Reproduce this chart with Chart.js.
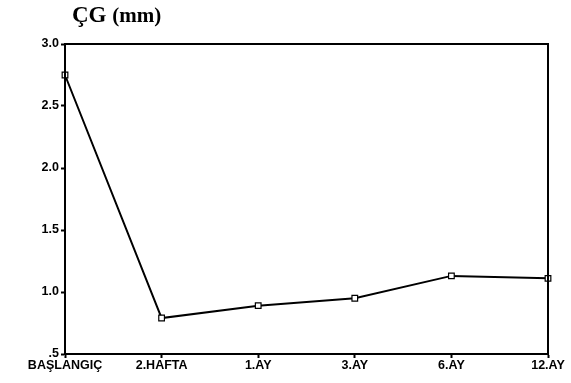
<!DOCTYPE html>
<html>
<head>
<meta charset="utf-8">
<script src="https://cdn.jsdelivr.net/npm/chart.js@4"></script>
<style>
  html, body { margin: 0; padding: 0; background: #ffffff; }
  #wrap { width: 571px; height: 383px; position: relative; }
</style>
</head>
<body>
<div id="wrap"><canvas id="chart" width="571" height="383"></canvas></div>
<script>
const periods = [`BAŞLANGIÇ`, `2.HAFTA`, `1.AY`, `3.AY`, `6.AY`, `12.AY`];
const cgValues = [2.75, 0.79, 0.89, 0.95, 1.13, 1.11];
const yTicks = [0.5, 1.0, 1.5, 2.0, 2.5, 3.0];

const AXIS_FONT = {family: `"Liberation Sans", Arial, sans-serif`, size: 12.5, weight: `bold`};

// frame around the plot + the title in the top left
const framePlugin = {
  id: `frame`,
  afterDraw(chart) {
    const {ctx, chartArea: a} = chart;
    ctx.save();
    ctx.strokeStyle = `#000000`;
    ctx.lineWidth = 2;
    ctx.strokeRect(a.left, a.top, a.right - a.left, a.bottom - a.top);

    ctx.fillStyle = `#000000`;
    ctx.textBaseline = `alphabetic`;
    ctx.font = `bold 23px "Liberation Serif", "Times New Roman", serif`;
    ctx.fillText(`ÇG`, 72, 22);
    const w = ctx.measureText(`ÇG `).width;
    ctx.font = `bold 21px "Liberation Serif", "Times New Roman", serif`;
    ctx.fillText(`(mm)`, 72 + w, 22);
    ctx.restore();
  }
};

new Chart(document.getElementById(`chart`), {
  type: `line`,
  plugins: [framePlugin],
  data: {
    labels: periods,
    datasets: [{
      data: cgValues,
      borderColor: `#000000`,
      borderWidth: 2,
      pointStyle: `rect`,
      pointRadius: 4,
      pointBackgroundColor: `#ffffff`,
      pointBorderColor: `#000000`,
      pointBorderWidth: 1.2,
      tension: 0,
    }]
  },
  options: {
    responsive: false,
    animation: false,
    layout: {
      padding: {top: 44, right: 23, left: 0, bottom: 0}
    },
    plugins: {
      legend: {display: false},
      tooltip: {enabled: false},
      title: {display: false},
    },
    scales: {
      x: {
        offset: false,
        grid: {
          drawOnChartArea: false,
          drawTicks: true,
          tickLength: 4,
          tickColor: `#000000`,
          tickWidth: 2,
        },
        border: {display: true, color: `#000000`, width: 2},
        ticks: {
          color: `#000000`,
          font: AXIS_FONT,
          padding: 0,
          maxRotation: 0,
          autoSkip: false,
        },
        afterFit: (scale) => {
          scale.height = 29;
        },
      },
      y: {
        min: 0.5,
        max: 3.0,
        afterBuildTicks: (scale) => {
          scale.ticks = yTicks.map((v) => ({value: v}));
        },
        grid: {
          drawOnChartArea: false,
          drawTicks: true,
          tickLength: 4,
          tickColor: `#000000`,
          tickWidth: 2,
        },
        border: {display: true, color: `#000000`, width: 2},
        ticks: {
          color: `#000000`,
          font: AXIS_FONT,
          padding: 2,
          callback: (v) => Number(v).toFixed(1).replace(/^0/, ``),
        },
        afterFit: (scale) => {
          scale.width = 65;
        },
      }
    }
  }
});
</script>
</body>
</html>
